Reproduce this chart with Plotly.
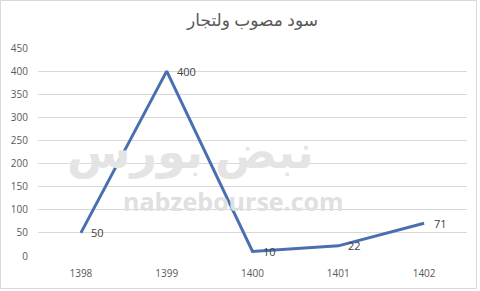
import plotly.graph_objects as go

years = ["1398", "1399", "1400", "1401", "1402"]
profit = [50, 400, 10, 22, 71]
labels = ["50", "400", "10", "22", "71"]
title_text = "سود مصوب ولتجار"

W, H = 480, 291
ml, mr, mt, mb = 38, 13, 48, 35
pw, ph = W - ml - mr, H - mt - mb

fig = go.Figure()
fig.add_trace(go.Scatter(
    x=years, y=profit, mode="lines",
    line=dict(color="#4A6FB0", width=3),
    hoverinfo="skip",
))

for i, (yv, t) in enumerate(zip(profit, labels)):
    fig.add_annotation(x=i, y=yv, xref="x", yref="y", text=t, showarrow=False,
                       xanchor="left", yanchor="middle", xshift=8, yshift=0,
                       font=dict(family="Open Sans, Arial", size=11, color="#404040"))

def px(x):
    return (x - ml) / pw

def py(y):
    return 1 - (y - mt) / ph

fig.add_annotation(x=px(190), y=py(150), xref="paper", yref="paper",
                   xanchor="center", yanchor="middle",
                   text="<b>نبض بورس</b>", showarrow=False,
                   font=dict(family="Noto Sans, DejaVu Sans", size=46, color="#e4e4e4"))
fig.add_annotation(x=px(233), y=py(201), xref="paper", yref="paper",
                   xanchor="center", yanchor="middle",
                   text="<b>nabzebourse.com</b>", showarrow=False,
                   font=dict(family="Open Sans, Arial", size=25, color="#e0e0e0"))

fig.add_shape(type="rect", xref="paper", yref="paper",
              x0=px(0.5), x1=px(W - 3.5), y0=py(H - 2.5), y1=py(0.5),
              line=dict(color="#d9d9d9", width=1), layer="below")

fig.update_layout(
    width=W, height=H,
    margin=dict(l=ml, r=mr, t=mt, b=mb),
    paper_bgcolor="white", plot_bgcolor="white",
    showlegend=False,
    title=dict(text=title_text, x=0.5, xref="paper", y=1 - 20 / H, yanchor="middle",
               font=dict(family="Noto Sans, DejaVu Sans", size=17, color="#595959")),
    xaxis=dict(type="category", range=[-0.5, 4.5], showgrid=False, zeroline=False,
               showline=False, ticks="", ticklabelstandoff=10,
               tickfont=dict(family="Open Sans, Arial", size=10, color="#595959")),
    yaxis=dict(range=[0, 450], dtick=50, showgrid=True, gridcolor="#d9d9d9",
               gridwidth=1, zeroline=False, showline=False, ticks="", ticklabelstandoff=9,
               tickfont=dict(family="Open Sans, Arial", size=10, color="#595959")),
)

fig.write_html("out.html")
